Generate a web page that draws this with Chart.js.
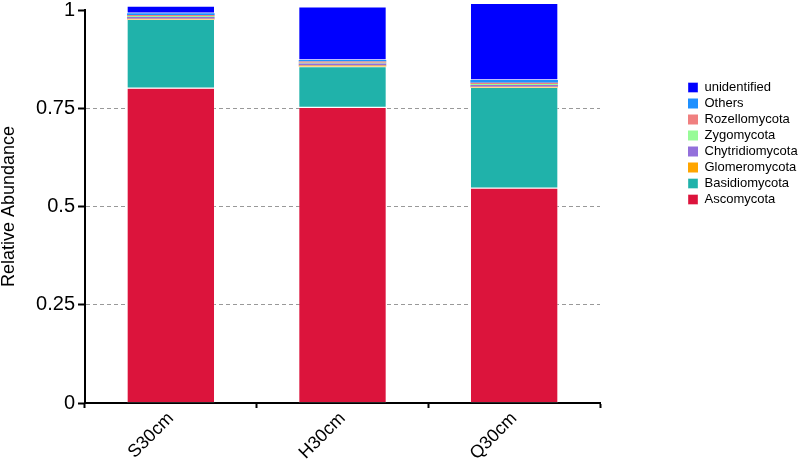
<!DOCTYPE html>
<html>
<head>
<meta charset="utf-8">
<script src="https://cdn.jsdelivr.net/npm/chart.js@4.4.1/dist/chart.umd.min.js"></script>
<style>
  html, body { margin: 0; padding: 0; background: #fff; }
  #wrap { width: 800px; height: 460px; }
</style>
</head>
<body>
<div id="wrap"><canvas id="chart" width="800" height="460"></canvas></div>
<script>
// data
const samples = ['S30cm', 'H30cm', 'Q30cm'];
const ascomycota      = [0.801, 0.752, 0.547];
const basidiomycota   = [0.175, 0.104, 0.256];
const glomeromycota   = [0.002, 0.003, 0.002];
const chytridiomycota = [0.004, 0.005, 0.004];
const zygomycota      = [0.003, 0.002, 0.003];
const rozellomycota   = [0.002, 0.003, 0.003];
const others          = [0.005, 0.004, 0.007];
const unidentified    = [0.018, 0.135, 0.195];

const yTickValues = [0, 0.25, 0.5, 0.75, 1];
const yTickLabels = ['0', '0.25', '0.5', '0.75', '1'];

const FONT = "'Liberation Sans', Arial, Helvetica, sans-serif";
Chart.defaults.color = '#000';
Chart.defaults.font.family = FONT;

// thin layers get no edge, big ones a faint light edge
function layer(label, data, color, edge) {
  return {
    label: label,
    data: data,
    backgroundColor: color,
    borderColor: 'rgba(255,255,255,0.6)',
    borderWidth: edge ? 0.6 : 0,
    borderSkipped: false,
    clip: false,
    categoryPercentage: 1,
    barPercentage: 0.51
  };
}

// push the legend items right, keep the plot narrow
const legendPlace = {
  id: 'legendPlace',
  beforeLayout(chart) {
    const lg = chart.legend;
    if (lg && !lg._wide) {
      const fit = lg.fit;
      lg.fit = function () { fit.call(this); this.width = 200; };
      lg._wide = true;
    }
  },
  afterLayout(chart) {
    chart.legend.left = 685;
    chart.legend.top = 78;
  }
};

new Chart(document.getElementById('chart').getContext('2d'), {
  type: 'bar',
  data: {
    labels: samples,
    datasets: [
      layer('Ascomycota', ascomycota, '#DC143C', true),
      layer('Basidiomycota', basidiomycota, '#20B2AA', true),
      layer('Glomeromycota', glomeromycota, '#FFA500', false),
      layer('Chytridiomycota', chytridiomycota, '#9370DB', false),
      layer('Zygomycota', zygomycota, '#98FB98', false),
      layer('Rozellomycota', rozellomycota, '#F08080', false),
      layer('Others', others, '#1E90FF', false),
      layer('unidentified', unidentified, '#0000FF', true)
    ]
  },
  options: {
    responsive: false,
    devicePixelRatio: 1,
    animation: false,
    events: [],
    layout: { padding: { top: 10, left: 0, right: 0, bottom: 0 } },
    plugins: {
      tooltip: { enabled: false },
      legend: {
        position: 'right',
        align: 'start',
        reverse: true,
        labels: {
          boxWidth: 10,
          boxHeight: 10,
          padding: 3,
          color: '#000',
          font: { size: 13, family: FONT }
        }
      }
    },
    scales: {
      x: {
        stacked: true,
        afterFit(s) { s.height = 57; s.paddingLeft = 0; s.paddingRight = 0; },
        border: { display: true, color: '#000', width: 2 },
        grid: {
          offset: true,
          drawOnChartArea: false,
          drawTicks: true,
          tickLength: 5,
          tickWidth: 2,
          tickColor: '#000'
        },
        ticks: {
          minRotation: 45,
          maxRotation: 45,
          padding: 0,
          color: '#000',
          font: { size: 18, family: FONT }
        }
      },
      y: {
        stacked: true,
        min: 0,
        max: 1,
        afterFit(s) { s.width = 85; s.paddingTop = 0; s.paddingBottom = 0; },
        afterBuildTicks(s) { s.ticks = yTickValues.map(v => ({ value: v })); },
        border: { display: true, color: '#000', width: 2, dash: [4, 3] },
        grid: {
          color: ctx => (ctx.tick && (ctx.tick.value === 0 || ctx.tick.value === 1)) ? 'rgba(0,0,0,0)' : '#999',
          lineWidth: 1,
          drawTicks: true,
          tickLength: 7,
          tickWidth: 2,
          tickColor: '#000'
        },
        ticks: {
          padding: 3,
          color: '#000',
          font: { size: 20, family: FONT },
          callback: v => yTickLabels[yTickValues.indexOf(v)]
        },
        title: {
          display: true,
          text: 'Relative Abundance',
          color: '#000',
          padding: 0,
          font: { size: 18, family: FONT, lineHeight: 1 }
        }
      }
    }
  },
  plugins: [legendPlace]
});
</script>
</body>
</html>
